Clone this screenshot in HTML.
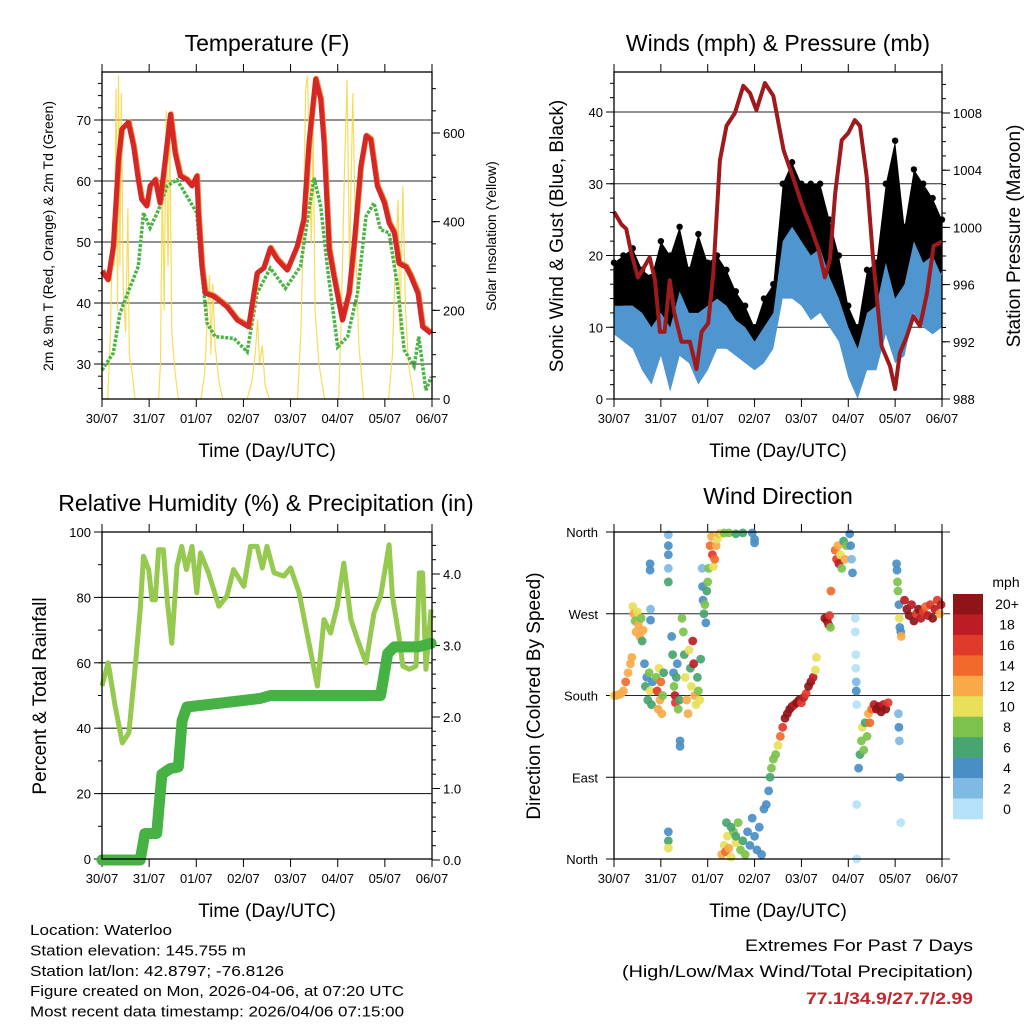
<!DOCTYPE html>
<html><head><meta charset="utf-8"><style>
body{margin:0;background:#fff;}
svg{display:block;font-family:"Liberation Sans",sans-serif;}
</style></head><body>
<svg id="fig" width="1024" height="1024" viewBox="0 0 1024 1024" xmlns="http://www.w3.org/2000/svg"></svg>
<script>
// ---------- DATA ----------
const dayLabels = ["30/07","31/07","01/07","02/07","03/07","04/07","05/07","06/07"];
// Temperature (F)
const tTime = [0,.13,.24,.35,.42,.56,.67,.77,.84,.95,1.02,1.13,1.23,1.34,1.45,1.55,1.66,1.80,1.91,2.01,2.05,2.12,2.19,2.37,2.65,2.87,3.11,3.29,3.43,3.57,3.72,3.93,4.14,4.28,4.39,4.53,4.64,4.71,4.82,4.92,5.10,5.24,5.35,5.49,5.60,5.70,5.84,5.99,6.09,6.20,6.30,6.45,6.55,6.70,6.80,6.98];
const tempF = [45.2,43.8,49.3,63.5,68.5,69.6,65.7,60.2,57,55.9,59.2,60.2,56.4,63.5,70.9,64.6,60.8,60.2,59.2,60.8,54.2,46,41.6,41.1,39.4,37.2,36.1,44.9,45.7,49,47.1,45.4,49.3,53.7,66.3,76.7,73.4,66.3,48.8,44.4,37.2,41.6,49.8,62.4,67.4,66.8,59.2,56.4,53.1,51.5,46.5,45.9,44.4,41.6,36.1,35];
const tdTime = [0,.24,.38,.6,.77,.88,1.02,1.2,1.38,1.59,1.8,2.01,2.09,2.23,2.4,2.8,3.08,3.29,3.57,3.89,4.21,4.39,4.5,4.64,4.78,5.0,5.21,5.42,5.6,5.77,5.91,6.09,6.27,6.41,6.62,6.72,6.87,6.98];
const tdF = [29,31.8,38.3,42.7,46,54.8,52.3,55.3,59.2,60.2,57.5,54.8,47.1,36.7,34.5,34.2,32,41.6,45.7,42.4,46,55.3,60.5,55.9,46,32.8,34.5,41.6,54.2,56.4,52,51.5,42.7,32.3,29.6,34.5,25.7,27.9];
const solTime = [0,.12,.18,.22,.26,.30,.33,.35,.38,.41,.45,.50,.55,.58,.65,.70,1.20,1.24,1.28,1.32,1.36,1.40,1.44,1.48,1.55,1.62,2.10,2.18,2.24,2.28,2.31,2.35,2.40,2.48,2.56,3.08,3.18,3.25,3.30,3.34,3.40,3.46,3.55,4.15,4.22,4.28,4.32,4.36,4.40,4.44,4.48,4.52,4.60,4.72,5.02,5.08,5.14,5.20,5.25,5.32,5.38,5.45,5.55,6.08,6.16,6.22,6.28,6.32,6.38,6.44,6.50,6.62,7];
const solW = [0,0,150,400,300,700,200,730,300,690,250,150,430,100,50,0,0,80,500,200,650,300,600,150,60,0,0,60,200,280,100,260,120,40,0,0,40,100,180,80,120,30,0,0,150,450,700,730,550,350,600,200,80,0,0,200,500,720,300,690,350,120,0,0,100,300,450,150,480,200,80,0,0];
// Winds (mph) per 0.2 day
const wTime = [0,.2,.4,.6,.8,1,1.2,1.4,1.6,1.8,2,2.2,2.4,2.6,2.8,3,3.2,3.4,3.6,3.8,4,4.2,4.4,4.6,4.8,5,5.2,5.4,5.6,5.8,6,6.2,6.4,6.6,6.8,7];
const sustLo = [9,8,7,4,2,6,1,6,5,2,4,7,7,6,5,4,5,7,14,14,13,11,12,10,8,3,0,4,4,9,5,6,12,10,9,10];
const sustHi = [13,13,13,12,10,12,10,15,12,12,13,14,13,11,10,8,10,12,22,24,22,20,21,17,14,10,7,12,13,19,14,16,22,19,20,17];
const gustLo = [12,13,13,10,8,12,9,10,9,8,10,12,12,10,8,6,7,10,20,20,17,16,18,14,10,5,2,8,8,15,10,12,20,16,14,18];
const gustHi = [19,20,21,18,17,22,20,24,18,23,19,20,18,15,13,10,14,16,30,33,30,30,30,25,20,13,10,18,19,30,36,24,32,30,28,25];
// Pressure (mb)
const pTime = [0,.16,.26,.37,.51,.62,.76,.87,.98,1.08,1.19,1.29,1.44,1.62,1.76,1.87,2.01,2.12,2.26,2.40,2.58,2.76,2.90,3.04,3.22,3.40,3.62,3.84,4.02,4.21,4.36,4.50,4.61,4.72,4.86,5.0,5.14,5.25,5.39,5.53,5.71,5.89,6.0,6.10,6.25,6.39,6.53,6.68,6.82,7.0];
const pMb = [1001.1,1000.2,999.9,998.2,996.5,997.1,997.9,996.4,992.7,992.7,996.3,994,992,992,990.1,992.7,993.3,996.8,1004.7,1007.1,1008,1009.9,1009.4,1008.2,1010.1,1009.2,1005.4,1003.3,1001.5,999.9,998.5,996.5,997.8,1002.4,1006.1,1006.6,1007.5,1007.1,1003.6,997.8,991.7,990.3,988.7,991.2,992.4,993.8,993.1,995.4,998.7,999];
// Relative humidity (%) and precipitation (in)
const rhTime = [0,.13,.28,.43,.57,.70,.81,.88,.99,1.06,1.13,1.2,1.3,1.39,1.48,1.59,1.69,1.79,1.91,2.01,2.09,2.26,2.48,2.65,2.79,3.01,3.15,3.29,3.40,3.50,3.65,3.86,4.0,4.18,4.39,4.57,4.71,4.85,4.99,5.13,5.28,5.42,5.60,5.77,5.91,6.09,6.16,6.30,6.38,6.52,6.66,6.73,6.80,6.87,6.98];
const rhPct = [52.9,60,46.7,35.5,38.6,58,76.3,92.6,88.5,79.3,79.3,94.6,94.6,78.3,66,89.5,95.6,88.5,95.6,81.4,93.6,87.5,77.3,80.4,88.5,83.4,95.6,95.6,89,95.6,87.5,86.5,89,81.4,66,52.9,73.2,69.1,77.3,90.5,73.2,67.1,60,75.3,80.4,96.1,80.4,68.1,59,58,59,87.5,87.5,58,76.3];
const prTime = [0,.81,.91,1.16,1.27,1.45,1.62,1.70,1.8,2.72,3.36,3.57,5.91,6.06,6.2,6.7,6.98];
const prIn = [0,0,.37,.37,1.2,1.28,1.3,1.95,2.14,2.21,2.26,2.3,2.3,2.89,2.98,2.98,3.03];
// Wind direction: [day, degrees, speed mph]
const dirPts = [[0,180,10],[0.05,180,12],[0.1,181,11],[0.15,182,12],[0.2,185,12],[0.25,195,13],[0.3,205,12],[0.35,215,11],[0.38,222,12],
[0.4,278,10],[0.42,270,12],[0.45,262,8],[0.47,250,12],[0.5,272,10],[0.52,258,12],[0.55,245,12],[0.58,265,8],[0.6,240,6],[0.62,252,12],
[0.65,215,4],[0.67,190,6],[0.7,200,4],[0.72,175,6],[0.75,205,8],[0.77,185,10],[0.8,170,6],[0.82,195,4],[0.77,318,4],[0.77,325,4],[0.78,275,2],[0.78,263,4],
[0.9,200,8],[0.92,185,16],[0.94,165,12],[0.96,210,10],[0.98,175,12],[1.0,195,14],[1.02,160,12],[1.04,180,8],[1.06,205,6],
[1.16,357,2],[1.16,345,4],[1.16,335,4],[1.16,320,2],[1.16,305,6],[1.16,30,4],[1.16,20,6],[1.16,12,10],
[1.23,245,4],[1.25,225,6],[1.27,205,4],[1.28,190,8],[1.3,180,18],[1.31,172,16],[1.33,200,6],[1.35,215,4],[1.37,165,8],[1.4,175,6],[1.41,130,4],[1.41,124,4],
[1.45,265,8],[1.48,250,8],[1.5,225,6],[1.52,200,10],[1.55,175,12],[1.58,160,12],[1.6,230,10],[1.63,210,6],[1.65,190,10],[1.68,240,18],[1.7,215,18],[1.72,180,12],[1.75,170,10],[1.78,200,6],[1.8,185,8],[1.83,175,10],[1.85,220,6],
[1.88,320,2],[1.89,300,4],[1.9,285,4],[1.92,270,6],[1.94,280,8],[1.96,260,4],[1.98,295,6],[2.0,305,8],[2.02,320,8],
[2.05,345,14],[2.08,355,12],[2.1,335,16],[2.12,322,10],[2.15,330,14],[2.18,345,12],[2.2,352,10],[2.25,358,12],[2.3,358,10],[2.35,359,8],
[2.45,359,8],[2.6,358,6],[2.75,359,6],[2.95,359,4],[3.0,352,4],[3.0,348,4],
[2.3,5,12],[2.35,15,10],[2.38,8,14],[2.42,25,10],[2.45,12,12],[2.5,2,10],[2.55,30,8],[2.6,18,10],
[2.4,40,6],[2.5,35,6],[2.6,25,6],[2.65,40,8],[2.7,10,8],[2.75,20,6],[2.8,5,8],[2.85,30,4],[2.9,15,4],[2.95,45,4],[3.0,25,4],[3.05,10,4],[3.1,35,4],[3.15,5,4],[3.2,55,4],
[3.25,60,4],[3.3,75,4],[3.33,90,6],[3.36,100,8],[3.4,110,8],[3.45,115,8],[3.5,125,10],
[3.55,135,14],[3.6,145,16],[3.65,155,20],[3.7,160,20],[3.75,165,20],
[3.8,168,20],[3.85,170,18],[3.9,172,20],[3.95,175,20],[4.0,172,16],[4.05,178,18],[4.1,182,16],[4.15,190,20],[4.2,195,20],[4.25,200,18],[4.3,208,10],[4.32,222,10],
[4.5,265,20],[4.55,262,20],[4.58,258,18],[4.6,268,16],[4.62,255,8],[4.63,295,14],
[4.72,340,14],[4.75,330,16],[4.78,345,12],[4.8,325,18],[4.83,335,10],[4.86,320,8],[4.9,350,6],[4.93,330,12],[4.96,345,8],
[5.03,358,4],[5.05,345,4],[5.07,330,2],[5.09,315,4],
[5.15,265,0],[5.15,250,0],[5.16,225,0],[5.16,210,0],[5.17,195,2],[5.17,185,4],[5.18,170,0],[5.18,60,0],[5.18,0,0],
[5.22,100,4],[5.25,115,6],[5.28,130,8],[5.3,145,10],[5.33,120,8],[5.36,150,6],[5.4,135,8],[5.43,160,12],[5.46,150,14],[5.5,165,14],
[5.55,170,18],[5.6,165,20],[5.65,168,20],[5.7,162,20],[5.75,170,18],[5.8,165,20],[5.85,172,16],
[6.07,160,2],[6.08,145,4],[6.09,130,2],[6.1,90,4],[6.12,40,0],
[6.03,325,4],[6.04,318,4],[6.05,305,8],[6.06,295,8],[6.08,280,4],[6.09,265,10],[6.1,255,4],[6.12,250,4],[6.13,245,12],
[6.2,285,18],[6.25,275,20],[6.3,268,20],[6.35,280,18],[6.4,262,20],[6.45,270,16],[6.5,275,20],[6.55,265,18],[6.6,272,16],[6.65,278,14],[6.7,268,18],[6.75,280,16],[6.8,265,20],[6.85,275,18],[6.9,285,16],[6.95,270,12],[6.98,280,18]];
const spdLevels = ["0","2","4","6","8","10","12","14","16","18","20+"];
const spdColors = ["#b5e2f8","#7fbae4","#4a8ec6","#47a56f","#7cc24b","#e7e058","#f7aa46","#f26a2b","#df3a2a","#bd1c24","#8f1418"];

// ---------- HELPERS ----------
const NS="http://www.w3.org/2000/svg";
const svg=document.getElementById('fig');
function el(tag,attrs,parent){const e=document.createElementNS(NS,tag);for(const k in attrs)e.setAttribute(k,attrs[k]);(parent||svg).appendChild(e);return e;}
function txt(s,x,y,size,anchor,parent,extra){const t=el('text',Object.assign({x:x,y:y,'font-size':size,'text-anchor':anchor||'middle',fill:'#000'},extra||{}),parent);t.textContent=s;return t;}
function lin(d0,d1,r0,r1){return v=>r0+(v-d0)*(r1-r0)/(d1-d0);}
function pathFrom(xs,ys,fx,fy){return xs.map((v,i)=>(i?'L':'M')+fx(v).toFixed(1)+','+fy(ys[i]).toFixed(1)).join('');}

function frame(name){
  const g=el('g',{});
  
  
  return g;
}
function xAxis(g,x0,x1,yb,yt){
  const fx=lin(0,7,x0,x1);
  for(let i=0;i<8;i++){
    const x=fx(i);
    el('line',{x1:x,y1:yb,x2:x,y2:yb+8,stroke:'#000','stroke-width':1},g);
    el('line',{x1:x,y1:yt,x2:x,y2:yt-8,stroke:'#000','stroke-width':1},g);
    const t=txt(dayLabels[i],x,yb+24,13,'middle',g);
    
    
  }
  const t=txt('Time (Day/UTC)',(x0+x1)/2,yb+58,19,'middle',g);
  
  
  return fx;
}
function yTicks(g,x,vals,labels,fy,side,minorStep,vmin,vmax,grid,x0,x1){
  const dir=side==='left'?-1:1;
  if(minorStep){for(let v=Math.ceil(vmin/minorStep)*minorStep;v<=vmax;v+=minorStep){const y=fy(v);el('line',{x1:x,y1:y,x2:x+dir*4,y2:y,stroke:'#000','stroke-width':1},g);}}
  vals.forEach((v,i)=>{
    const y=fy(v);
    el('line',{x1:x,y1:y,x2:x+dir*8,y2:y,stroke:'#000','stroke-width':1},g);
    if(grid) el('line',{x1:x0,y1:y,x2:x1,y2:y,stroke:'#000','stroke-width':1.1,opacity:.85},g);
    const t=txt(labels[i],x+dir*11,y+5,13,side==='left'?'end':'start',g);
    
    
  });
}
function box(g,x0,y0,x1,y1){el('rect',{x:x0,y:y0,width:x1-x0,height:y1-y0,fill:'none',stroke:'#000','stroke-width':1.3},g);}
function rotText(g,s,x,y,size,name){const t=txt(s,x,y,size,'middle',g,{transform:`rotate(-90 ${x} ${y})`});return t;}

// ---------- PANEL 1 TEMPERATURE ----------
(function(){
  const X0=102,X1=432,Y0=72,Y1=399;
  const g=frame('temperature-panel');
  const fx=xAxis(g,X0,X1,Y1,Y0);
  const fy=lin(30,70,364,120);
  const fs=lin(0,600,399,133);
  const t=txt('Temperature (F)',267,51,23,'middle',g);
  yTicks(g,X0,[30,40,50,60,70],['30','40','50','60','70'],fy,'left',2,25,77,true,X0,X1);
  yTicks(g,X1,[0,200,400,600],['0','200','400','600'],fs,'right',50,0,735,false);
  const sol=el('path',{d:pathFrom(solTime,solW,fx,fs),fill:'none',stroke:'#f6d84a','stroke-width':1.2,opacity:.9},g);
  
  
  const td=el('path',{d:pathFrom(tdTime,tdF,fx,fy),fill:'none',stroke:'#4cb346','stroke-width':3.5,'stroke-dasharray':'3 1.5'},g);
  
  
  const t9=el('path',{d:pathFrom(tTime,tempF,fx,fy),fill:'none',stroke:'#f08a30','stroke-width':5,transform:'translate(0.8,-0.8)','stroke-linejoin':'round'},g);
  
  
  const t2=el('path',{d:pathFrom(tTime,tempF,fx,fy),fill:'none',stroke:'#d62727','stroke-width':5,'stroke-linejoin':'round'},g);
  
  
  box(g,X0,Y0,X1,Y1);
  rotText(g,'2m & 9m T (Red, Orange) & 2m Td (Green)',53,236,14,'left-y-axis-title');
  rotText(g,'Solar Insolation (Yellow)',496,236,14,'right-y-axis-title');
})();

// ---------- PANEL 2 WINDS ----------
(function(){
  const X0=614,X1=942,Y0=72,Y1=399;
  const g=frame('winds-panel');
  const fx=xAxis(g,X0,X1,Y1,Y0);
  const fy=lin(0,40,399,112);
  const fp=lin(988,1008,399,113);
  const t=txt('Winds (mph) & Pressure (mb)',778,51,23,'middle',g);
  yTicks(g,X0,[0,10,20,30,40],['0','10','20','30','40'],fy,'left',2,0,45,true,X0,X1);
  yTicks(g,X1,[988,992,996,1000,1004,1008],['988','992','996','1000','1004','1008'],fp,'right',1,988,1010,false);
  const gp=wTime.map(fx).map((x,i)=>x.toFixed(1)+','+fy(gustHi[i]).toFixed(1)).join(' ')+' '+wTime.map(fx).map((x,i)=>x.toFixed(1)+','+fy(gustLo[i]).toFixed(1)).reverse().join(' ');
  const gb=el('polygon',{points:gp,fill:'#000'},g);
  
  
  wTime.forEach((d,i)=>{
    const c=el('circle',{cx:fx(d),cy:fy(gustHi[i]),r:3.2,fill:'#000'},g);
    
    
  });
  const sp=wTime.map(fx).map((x,i)=>x.toFixed(1)+','+fy(sustHi[i]).toFixed(1)).join(' ')+' '+wTime.map(fx).map((x,i)=>x.toFixed(1)+','+fy(sustLo[i]).toFixed(1)).reverse().join(' ');
  const sb=el('polygon',{points:sp,fill:'#4f95cf'},g);
  
  
  const pl=el('path',{d:pathFrom(pTime,pMb,fx,fp),fill:'none',stroke:'#9e1a1c','stroke-width':4,'stroke-linejoin':'round'},g);
  
  
  box(g,X0,Y0,X1,Y1);
  rotText(g,'Sonic Wind & Gust (Blue, Black)',563,236,19,'left-y-axis-title');
  rotText(g,'Station Pressure (Maroon)',1020,236,19,'right-y-axis-title');
})();

// ---------- PANEL 3 RH & PRECIP ----------
(function(){
  const X0=102,X1=432,Y0=532,Y1=859;
  const g=frame('humidity-precip-panel');
  const fx=xAxis(g,X0,X1,Y1,Y0);
  const fy=lin(0,100,859,532);
  const fr=lin(0,4,860,574);
  const t=txt('Relative Humidity (%) & Precipitation (in)',266,511,23,'middle',g);
  yTicks(g,X0,[0,20,40,60,80,100],['0','20','40','60','80','100'],fy,'left',10,0,100,true,X0,X1);
  yTicks(g,X1,[0,1,2,3,4],['0.0','1.0','2.0','3.0','4.0'],fr,'right',0.2,0,4.5,false);
  const rh=el('path',{d:pathFrom(rhTime,rhPct,fx,fy),fill:'none',stroke:'#95c94f','stroke-width':5,'stroke-linejoin':'round'},g);
  
  
  const pr=el('path',{d:pathFrom(prTime,prIn,fx,fr),fill:'none',stroke:'#46b244','stroke-width':11,'stroke-linejoin':'round','stroke-linecap':'round'},g);
  
  
  box(g,X0,Y0,X1,Y1);
  rotText(g,'Percent & Total Rainfall',46,696,19,'left-y-axis-title');
})();

// ---------- PANEL 4 WIND DIRECTION ----------
(function(){
  const X0=614,X1=942,Y0=532,Y1=859;
  const g=frame('wind-direction-panel');
  const fx=xAxis(g,X0,X1,Y1,Y0);
  const fy=lin(0,360,859,532);
  const t=txt('Wind Direction',778,504,23,'middle',g);
  const dv=[0,90,180,270,360],dl=['North','East','South','West','North'];
  dv.forEach((v,i)=>{
    const y=fy(v);
    el('line',{x1:X0,y1:y,x2:X0-8,y2:y,stroke:'#000'},g);
    el('line',{x1:X0,y1:y,x2:X1+8,y2:y,stroke:'#000','stroke-width':1.1,opacity:.85},g);
    const l=txt(dl[i],X0-16,y+5,13,'end',g);
    
    
  });
  dirPts.forEach(p=>{
    const ci=Math.min(10,Math.max(0,Math.round(p[2]/2)));
    const c=el('circle',{cx:fx(p[0]),cy:fy(p[1]),r:4.4,fill:spdColors[ci],opacity:.92},g);
    
    
  });
  box(g,X0,Y0,X1,Y1);
  rotText(g,'Direction (Colored By Speed)',540,696,19,'left-y-axis-title');
  const cb=el('g',{},g);
  
  
  const h=(819-594)/11;
  spdColors.slice().reverse().forEach((c,i)=>{
    const r=el('rect',{x:953,y:594+i*h,width:30,height:h+0.3,fill:c},cb);
    
    
    const l=txt(spdLevels[10-i],1007,594+i*h+h/2+5,14,'middle',cb);
    
    
  });
  const m=txt('mph',1006,587,14,'middle',cb);
  
  
})();

// ---------- FOOTER ----------
(function(){
  const g=el('g',{});
  
  
  const lines=[['Location: Waterloo',142],['Station elevation: 145.755 m',216],['Station lat/lon: 42.8797; -76.8126',254],['Figure created on Mon, 2026-04-06, at 07:20 UTC',374],['Most recent data timestamp: 2026/04/06 07:15:00',374]];
  lines.forEach((l,i)=>{
    const t=txt(l[0],30,935+i*20.4,15,'start',g,{textLength:l[1],lengthAdjust:'spacingAndGlyphs'});
    
    
  });
  const a=txt('Extremes For Past 7 Days',973,951,17,'end',g,{textLength:228,lengthAdjust:'spacingAndGlyphs'});
  
  
  const b=txt('(High/Low/Max Wind/Total Precipitation)',973,977,17,'end',g,{textLength:351,lengthAdjust:'spacingAndGlyphs'});
  
  
  const c=txt('77.1/34.9/27.7/2.99',973,1004,17,'end',g,{fill:'#c1272d','font-weight':'bold',textLength:167,lengthAdjust:'spacingAndGlyphs'});
  
  
})();
</script>
</body></html>
